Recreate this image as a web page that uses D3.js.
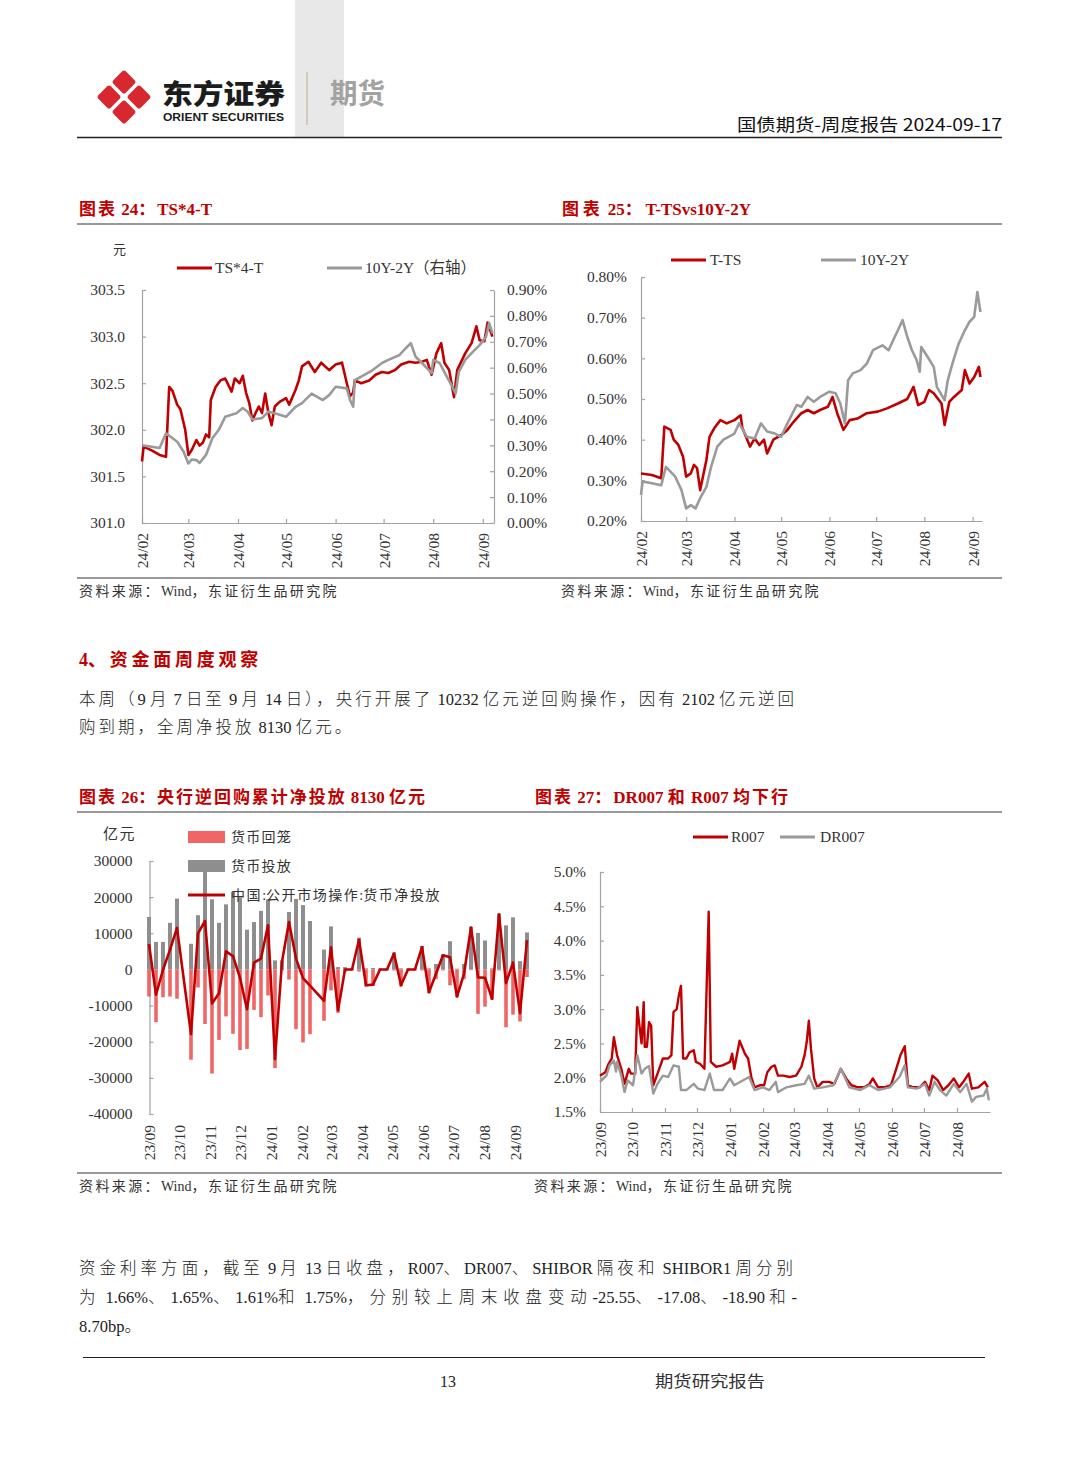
<!DOCTYPE html>
<html>
<head>
<meta charset="utf-8">
<script src="https://cdn.jsdelivr.net/npm/d3@7"></script>
<style>
  body { margin: 0; background: #fff; }
  svg { display: block; }
  text { white-space: pre; }
</style>
</head>
<body>
<svg id="page" width="1080" height="1466"></svg>
<script>
// ---------- chart 24: TS*4-T (left axis) and 10Y-2Y (right axis, %) ----------
var ts4T = [
  ["2024-02-01",301.66],["2024-02-02",301.82],["2024-02-07",301.78],["2024-02-12",301.73],["2024-02-16",301.71],
  ["2024-02-18",302.46],["2024-02-20",302.42],["2024-02-23",302.27],["2024-02-25",302.22],["2024-02-28",302.00],
  ["2024-03-01",301.73],["2024-03-03",301.78],["2024-03-06",301.89],["2024-03-08",301.83],["2024-03-10",301.86],
  ["2024-03-12",301.95],["2024-03-14",301.92],["2024-03-15",302.32],["2024-03-18",302.46],["2024-03-21",302.53],
  ["2024-03-24",302.55],["2024-03-28",302.41],["2024-03-30",302.55],["2024-04-02",302.50],["2024-04-04",302.58],
  ["2024-04-06",302.40],["2024-04-08",302.29],["2024-04-10",302.10],["2024-04-12",302.18],["2024-04-14",302.25],
  ["2024-04-16",302.18],["2024-04-18",302.39],["2024-04-20",302.18],["2024-04-22",302.05],["2024-04-24",302.25],
  ["2024-04-27",302.30],["2024-05-01",302.34],["2024-05-03",302.27],["2024-05-07",302.43],["2024-05-09",302.53],
  ["2024-05-11",302.68],["2024-05-15",302.73],["2024-05-19",302.62],["2024-05-23",302.72],["2024-05-28",302.64],
  ["2024-06-01",302.70],["2024-06-05",302.72],["2024-06-08",302.50],["2024-06-10",302.36],["2024-06-12",302.40],
  ["2024-06-13",302.53],["2024-06-17",302.50],["2024-06-22",302.53],["2024-06-26",302.59],["2024-06-30",302.62],
  ["2024-07-04",302.61],["2024-07-08",302.64],["2024-07-12",302.70],["2024-07-17",302.73],["2024-07-21",302.72],
  ["2024-07-25",302.73],["2024-07-28",302.75],["2024-07-31",302.59],["2024-08-03",302.82],["2024-08-06",302.93],
  ["2024-08-08",302.72],["2024-08-11",302.64],["2024-08-14",302.35],["2024-08-16",302.64],["2024-08-21",302.82],
  ["2024-08-25",302.93],["2024-08-28",303.11],["2024-08-30",302.96],["2024-09-02",302.95],["2024-09-04",303.15],
  ["2024-09-07",303.00]
];
var spread24 = [
  ["2024-02-01",0.300],["2024-02-12",0.290],["2024-02-16",0.347],["2024-02-23",0.314],["2024-02-27",0.275],
  ["2024-03-01",0.230],["2024-03-03",0.245],["2024-03-06",0.243],["2024-03-08",0.232],["2024-03-12",0.263],
  ["2024-03-16",0.327],["2024-03-20",0.360],["2024-03-24",0.410],["2024-03-31",0.424],["2024-04-04",0.444],
  ["2024-04-07",0.430],["2024-04-10",0.400],["2024-04-16",0.405],["2024-04-20",0.430],["2024-04-24",0.424],
  ["2024-05-01",0.410],["2024-05-07",0.449],["2024-05-11",0.463],["2024-05-17",0.500],["2024-05-24",0.475],
  ["2024-05-28",0.494],["2024-06-01",0.526],["2024-06-08",0.520],["2024-06-10",0.475],["2024-06-12",0.449],
  ["2024-06-13",0.552],["2024-06-17",0.565],["2024-06-24",0.590],["2024-06-30",0.618],["2024-07-04",0.630],
  ["2024-07-11",0.649],["2024-07-15",0.676],["2024-07-18",0.695],["2024-07-21",0.642],["2024-07-25",0.618],
  ["2024-07-31",0.579],["2024-08-01",0.630],["2024-08-05",0.618],["2024-08-09",0.571],["2024-08-13",0.526],
  ["2024-08-15",0.500],["2024-08-17",0.584],["2024-08-21",0.630],["2024-08-25",0.656],["2024-08-30",0.687],
  ["2024-09-03",0.720],["2024-09-05",0.772],["2024-09-07",0.733]
];
var ticks24L = [301.0, 301.5, 302.0, 302.5, 303.0, 303.5];
var ticks24R = [0, 0.1, 0.2, 0.3, 0.4, 0.5, 0.6, 0.7, 0.8, 0.9];
var months24 = ["2024-02-01","2024-03-01","2024-04-01","2024-05-01","2024-06-01","2024-07-01","2024-08-01","2024-09-01"];

// ---------- chart 25: T-TS vs 10Y-2Y (%) ----------
var tMinusTs = [
  ["2024-02-01",0.317],["2024-02-08",0.313],["2024-02-14",0.305],["2024-02-16",0.432],["2024-02-20",0.424],
  ["2024-02-22",0.400],["2024-02-25",0.387],["2024-02-28",0.358],["2024-03-01",0.309],["2024-03-04",0.317],
  ["2024-03-06",0.338],["2024-03-08",0.330],["2024-03-10",0.276],["2024-03-14",0.350],["2024-03-16",0.407],
  ["2024-03-19",0.428],["2024-03-23",0.448],["2024-03-27",0.440],["2024-04-01",0.448],["2024-04-05",0.460],
  ["2024-04-06",0.430],["2024-04-11",0.383],["2024-04-14",0.403],["2024-04-17",0.387],["2024-04-20",0.400],
  ["2024-04-22",0.366],["2024-04-26",0.400],["2024-05-01",0.411],["2024-05-05",0.424],["2024-05-09",0.444],
  ["2024-05-14",0.465],["2024-05-18",0.473],["2024-05-22",0.465],["2024-05-26",0.473],["2024-05-31",0.481],
  ["2024-06-03",0.505],["2024-06-06",0.465],["2024-06-10",0.424],["2024-06-14",0.448],["2024-06-19",0.452],
  ["2024-06-25",0.465],["2024-07-02",0.469],["2024-07-08",0.477],["2024-07-15",0.489],["2024-07-21",0.500],
  ["2024-07-25",0.530],["2024-07-28",0.485],["2024-08-01",0.493],["2024-08-04",0.522],["2024-08-07",0.514],
  ["2024-08-12",0.489],["2024-08-14",0.436],["2024-08-17",0.493],["2024-08-20",0.505],["2024-08-25",0.522],
  ["2024-08-27",0.571],["2024-08-30",0.538],["2024-09-02",0.554],["2024-09-05",0.579],["2024-09-06",0.554]
];
var spread25 = [
  ["2024-02-01",0.264],["2024-02-02",0.297],["2024-02-08",0.293],["2024-02-14",0.288],["2024-02-17",0.333],
  ["2024-02-23",0.309],["2024-02-27",0.276],["2024-03-01",0.231],["2024-03-04",0.239],["2024-03-07",0.231],
  ["2024-03-10",0.256],["2024-03-14",0.284],["2024-03-17",0.333],["2024-03-21",0.383],["2024-03-25",0.400],
  ["2024-04-01",0.415],["2024-04-04",0.440],["2024-04-09",0.407],["2024-04-14",0.403],["2024-04-18",0.440],
  ["2024-04-22",0.420],["2024-04-27",0.415],["2024-05-01",0.407],["2024-05-05",0.440],["2024-05-11",0.485],
  ["2024-05-14",0.481],["2024-05-18",0.505],["2024-05-22",0.493],["2024-05-26",0.505],["2024-06-01",0.518],
  ["2024-06-05",0.514],["2024-06-08",0.489],["2024-06-11",0.440],["2024-06-13",0.546],["2024-06-16",0.563],
  ["2024-06-21",0.571],["2024-06-25",0.587],["2024-06-29",0.620],["2024-07-05",0.632],["2024-07-09",0.620],
  ["2024-07-12",0.645],["2024-07-15",0.669],["2024-07-18",0.694],["2024-07-21",0.653],["2024-07-24",0.620],
  ["2024-07-27",0.596],["2024-07-29",0.567],["2024-07-30",0.628],["2024-08-03",0.604],["2024-08-07",0.579],
  ["2024-08-09",0.530],["2024-08-14",0.497],["2024-08-16",0.546],["2024-08-19",0.587],["2024-08-23",0.636],
  ["2024-08-27",0.669],["2024-08-30",0.690],["2024-09-02",0.702],["2024-09-04",0.763],["2024-09-06",0.714]
];
var ticks25 = [0.2, 0.3, 0.4, 0.5, 0.6, 0.7, 0.8];
var months25 = months24;

// ---------- chart 26: weekly open market operations (亿元) ----------
var weekDates = ["2023-09-01","2023-09-08","2023-09-15","2023-09-22","2023-09-29","2023-10-13","2023-10-20",
  "2023-10-27","2023-11-03","2023-11-10","2023-11-17","2023-11-24","2023-12-01","2023-12-08","2023-12-15",
  "2023-12-22","2023-12-29","2024-01-05","2024-01-12","2024-01-19","2024-01-26","2024-02-02","2024-02-09",
  "2024-02-23","2024-03-01","2024-03-08","2024-03-15","2024-03-22","2024-03-29","2024-04-05","2024-04-12",
  "2024-04-19","2024-04-26","2024-05-03","2024-05-10","2024-05-17","2024-05-24","2024-05-31","2024-06-07",
  "2024-06-14","2024-06-21","2024-06-28","2024-07-05","2024-07-12","2024-07-19","2024-07-26","2024-08-02",
  "2024-08-09","2024-08-16","2024-08-23","2024-08-30","2024-09-06","2024-09-13"];
var injection = [14500,7600,7600,12900,19600,7100,15000,28500,19400,12900,18000,21500,20000,11000,13100,16200,
  19400,2500,2500,15900,19500,17800,13400,5500,11900,650,650,300,8800,300,400,300,300,4700,300,300,300,6500,300,
  1500,4200,7800,200,1500,11800,10100,8000,300,15500,12200,14400,2300,10232];
var withdrawal = [-7500,-14600,-7700,-7500,-8100,-25000,-5000,-15100,-28800,-19500,-13000,-17800,-22300,-22000,
  -11200,-13200,-7200,-27300,-300,-2800,-16500,-20200,-17900,-14200,-5800,-12000,-650,-300,-600,-4700,-4600,-300,
  -300,-300,-4700,-300,-300,-300,-6600,-2700,-300,-4400,-7700,-2700,-200,-12300,-10300,-8400,-300,-16000,-12500,
  -14400,-2102];
var netInjection = [7000,-7000,-100,5400,11500,-17900,10000,13400,-9400,-6600,5000,3700,-2300,-11000,1900,3000,
  12200,-24800,2200,13100,3000,-2400,-4500,-8700,6100,-11350,0,0,8200,-4400,-4200,0,0,4400,-4400,0,0,6200,-6300,
  -1200,3900,3400,-7500,-1200,11600,-2200,-2300,-8100,15200,-3800,1900,-12100,8130];
var ticks26 = [-40000, -30000, -20000, -10000, 0, 10000, 20000, 30000];
var months26 = ["2023-09-01","2023-10-01","2023-11-01","2023-12-01","2024-01-01","2024-02-01","2024-03-01",
  "2024-04-01","2024-05-01","2024-06-01","2024-07-01","2024-08-01","2024-09-01"];

// ---------- chart 27: R007 and DR007 (%) ----------
var r007 = [
  ["2023-09-01",2.03],["2023-09-06",2.08],["2023-09-09",2.20],["2023-09-12",2.28],["2023-09-14",2.59],
  ["2023-09-17",2.33],["2023-09-21",2.13],["2023-09-24",1.91],["2023-09-28",2.13],["2023-09-30",2.06],
  ["2023-10-04",2.06],["2023-10-06",3.03],["2023-10-08",2.76],["2023-10-10",2.50],["2023-10-12",3.10],
  ["2023-10-13",2.45],["2023-10-15",2.45],["2023-10-17",2.81],["2023-10-19",2.76],["2023-10-21",1.89],
  ["2023-10-25",2.06],["2023-10-30",2.28],["2023-11-04",2.28],["2023-11-07",2.33],["2023-11-09",2.96],
  ["2023-11-12",3.00],["2023-11-14",3.20],["2023-11-16",3.34],["2023-11-18",2.28],["2023-11-21",2.28],
  ["2023-11-24",2.37],["2023-11-28",2.40],["2023-11-30",2.23],["2023-12-04",2.20],["2023-12-08",2.13],
  ["2023-12-12",4.42],["2023-12-14",2.23],["2023-12-19",2.16],["2023-12-25",2.18],["2024-01-01",2.23],
  ["2024-01-03",2.35],["2024-01-05",2.13],["2024-01-10",2.54],["2024-01-15",2.35],["2024-01-18",2.28],
  ["2024-01-21",2.01],["2024-01-24",1.86],["2024-01-29",1.89],["2024-02-02",1.89],["2024-02-05",2.08],
  ["2024-02-09",2.16],["2024-02-12",2.18],["2024-02-15",2.03],["2024-02-20",2.03],["2024-02-26",2.01],
  ["2024-03-03",2.03],["2024-03-08",2.16],["2024-03-11",2.33],["2024-03-13",2.52],["2024-03-15",2.83],
  ["2024-03-17",2.42],["2024-03-20",1.99],["2024-03-23",1.86],["2024-03-28",1.94],["2024-04-03",1.94],
  ["2024-04-08",1.91],["2024-04-14",2.13],["2024-04-19",1.99],["2024-04-24",1.89],["2024-04-30",1.86],
  ["2024-05-06",1.86],["2024-05-11",1.91],["2024-05-14",1.99],["2024-05-19",1.86],["2024-05-25",1.86],
  ["2024-05-31",1.89],["2024-06-05",2.13],["2024-06-09",2.33],["2024-06-13",2.46],["2024-06-16",1.89],
  ["2024-06-21",1.86],["2024-06-27",1.86],["2024-07-02",1.94],["2024-07-06",1.82],["2024-07-09",2.03],
  ["2024-07-14",1.96],["2024-07-19",1.82],["2024-07-24",1.89],["2024-07-29",1.99],["2024-08-03",1.86],
  ["2024-08-07",1.94],["2024-08-12",2.06],["2024-08-15",1.84],["2024-08-21",1.86],["2024-08-27",1.94],
  ["2024-08-30",1.86]
];
var dr007 = [
  ["2023-09-01",1.94],["2023-09-07",2.03],["2023-09-10",2.18],["2023-09-14",2.25],["2023-09-16",2.09],
  ["2023-09-17",2.23],["2023-09-21",2.03],["2023-09-24",1.79],["2023-09-27",1.96],["2023-10-02",1.89],
  ["2023-10-06",2.33],["2023-10-10",2.06],["2023-10-13",2.13],["2023-10-17",2.17],["2023-10-21",1.77],
  ["2023-10-25",1.91],["2023-10-30",2.03],["2023-11-04",2.01],["2023-11-09",2.18],["2023-11-14",2.16],
  ["2023-11-16",1.82],["2023-11-21",1.82],["2023-11-28",1.91],["2023-12-02",1.84],["2023-12-08",1.82],
  ["2023-12-13",2.06],["2023-12-17",1.82],["2023-12-25",1.82],["2024-01-01",1.99],["2024-01-05",1.89],
  ["2024-01-13",1.96],["2024-01-19",2.01],["2024-01-24",1.82],["2024-02-01",1.86],["2024-02-07",1.82],
  ["2024-02-13",1.94],["2024-02-15",1.79],["2024-02-23",1.86],["2024-03-03",1.89],["2024-03-11",1.91],
  ["2024-03-15",2.03],["2024-03-20",1.84],["2024-03-28",1.86],["2024-04-07",1.89],["2024-04-14",2.13],
  ["2024-04-22",1.86],["2024-05-02",1.82],["2024-05-11",1.89],["2024-05-19",1.82],["2024-05-30",1.86],
  ["2024-06-08",2.01],["2024-06-13",2.18],["2024-06-16",1.86],["2024-06-24",1.84],["2024-07-02",1.91],
  ["2024-07-06",1.74],["2024-07-11",1.94],["2024-07-16",1.82],["2024-07-22",1.74],["2024-07-29",1.91],
  ["2024-08-04",1.79],["2024-08-10",1.91],["2024-08-15",1.65],["2024-08-19",1.72],["2024-08-26",1.74],
  ["2024-08-29",1.84],["2024-08-31",1.67]
];
var ticks27 = [1.5, 2.0, 2.5, 3.0, 3.5, 4.0, 4.5, 5.0];
var months27 = months26.slice(0, 12);

// ---------- page text ----------
var para1 = ["本周（9 月 7 日至 9 月 14 日），央行开展了 10232 亿元逆回购操作，因有 2102 亿元逆回",
             "购到期，全周净投放 8130 亿元。"];
var para2 = ["资金利率方面，截至 9 月 13 日收盘，R007、DR007、SHIBOR 隔夜和 SHIBOR1 周分别",
             "为 1.66%、1.65%、1.61%和 1.75%，分别较上周末收盘变动-25.55、-17.08、-18.90 和-",
             "8.70bp。"];
var source = "资料来源：Wind，东证衍生品研究院";

// ---------- helpers ----------
var svg = d3.select("#page");
var parse = d3.timeParse("%Y-%m-%d");
var SERIF = "'Liberation Serif','Noto Sans CJK SC',serif";
var SANS = "'Noto Sans CJK SC','Noto Sans',sans-serif";
var RED = "#c00000", GREY = "#9a9a9a", AXIS = "#a3a3a3", INK = "#333", RULE = "#777";
var CJK = /[\u3000-\u303f\u4e00-\u9fff\uff00-\uffef]/;

function label(x, y, s, o) {
  o = o || {};
  var t = svg.append("text").attr("x", x).attr("y", y).text(s)
      .attr("font-family", o.font || SERIF).attr("font-size", o.size || 15)
      .attr("fill", o.fill || INK);
  if (o.weight) t.attr("font-weight", o.weight);
  if (o.anchor) t.attr("text-anchor", o.anchor);
  if (o.len) t.attr("textLength", o.len).attr("lengthAdjust", o.adjust || "spacingAndGlyphs");
  return t;
}

// spread the CJK characters so the line fills the given width (like the justified PDF text)
function justify(x, y, s, width, o, spacing) {
  o = o || {};
  var t = svg.append("text").attr("x", x).attr("y", y)
      .attr("font-family", o.font || SERIF).attr("font-size", o.size || 15)
      .attr("fill", o.fill || INK);
  if (o.weight) t.attr("font-weight", o.weight);
  var parts = s.split(/([\u3000-\u303f\u4e00-\u9fff\uff00-\uffef]+)/).filter(function(p) { return p; });
  var spans = [], n = 0;
  parts.forEach(function(p) {
    var sp = t.append("tspan").text(p);
    if (CJK.test(p)) { spans.push(sp); n += p.length; }
  });
  var ls = spacing;
  if (ls === undefined) ls = Math.max(0, (width - t.node().getComputedTextLength()) / n);
  spans.forEach(function(sp) { sp.style("letter-spacing", ls + "px"); });
  return ls;
}

function rule(x1, x2, y, color, w) {
  svg.append("line").attr("x1", x1).attr("x2", x2).attr("y1", y).attr("y2", y)
    .attr("stroke", color).attr("stroke-width", w);
}

function styleAxis(g) {
  g.attr("font-family", SERIF).attr("font-size", 15.5);
  g.selectAll("path,line").attr("stroke", AXIS).attr("stroke-width", 1.2);
  g.selectAll("text").attr("fill", INK);
}

function yAxis(scale, x, side, ticks, fmt, pad) {
  var ax = (side === "left" ? d3.axisLeft(scale) : d3.axisRight(scale))
      .tickValues(ticks).tickFormat(fmt).tickSizeInner(-4).tickSizeOuter(0).tickPadding(pad);
  var g = svg.append("g").attr("transform", "translate(" + x + ",0)").call(ax);
  styleAxis(g);
}

function xAxis(scale, y, ticks, withLine, pad) {
  var ax = d3.axisBottom(scale).tickValues(ticks.map(parse)).tickFormat(d3.timeFormat("%y/%m"))
      .tickSizeInner(withLine ? -4 : 0).tickSizeOuter(0);
  var g = svg.append("g").attr("transform", "translate(0," + y + ")").call(ax);
  styleAxis(g);
  if (!withLine) g.selectAll("path,line").remove();
  g.selectAll("text").attr("transform", "rotate(-90)").attr("x", -pad).attr("y", 0)
    .attr("dy", "0.35em").attr("text-anchor", "end");
}

function drawLine(data, x, y, color, w) {
  svg.append("path").datum(data)
    .attr("fill", "none").attr("stroke", color).attr("stroke-width", w)
    .attr("stroke-linejoin", "round")
    .attr("d", d3.line().x(function(d) { return x(parse(d[0])); }).y(function(d) { return y(d[1]); }));
}

function legendLine(x, y, color) {
  svg.append("line").attr("x1", x).attr("x2", x + 35).attr("y1", y).attr("y2", y)
    .attr("stroke", color).attr("stroke-width", 3);
}

var pct2 = function(d) { return d.toFixed(2) + "%"; };
var BODY = { size: 16.5, weight: 300, fill: "#222" };

// ---------- header ----------
svg.append("rect").attr("x", 295).attr("y", 0).attr("width", 49).attr("height", 137).attr("fill", "#e8e8e8");
[[0, -15], [15, 0], [0, 15], [-15, 0]].forEach(function(o) {
  svg.append("rect").attr("x", -8.8).attr("y", -8.8).attr("width", 17.6).attr("height", 17.6).attr("rx", 2.5)
    .attr("transform", "translate(" + (124 + o[0]) + "," + (97 + o[1]) + ") rotate(45)")
    .attr("fill", "#d7282f");
});
label(162, 104, "东方证券", { font: SANS, size: 27, weight: 900, fill: "#1c1c1c", len: 123 });
label(163, 121, "ORIENT SECURITIES", { font: "'Liberation Sans',Roboto,sans-serif", size: 11.5, weight: 700, fill: "#1c1c1c", len: 121 });
svg.append("line").attr("x1", 307).attr("x2", 307).attr("y1", 72).attr("y2", 125).attr("stroke", "#cfc2a4").attr("stroke-width", 1.5);
label(330, 104, "期货", { font: SANS, size: 28, weight: 700, fill: "#a2a2a2", len: 55 });
label(1002, 130.5, "国债期货-周度报告 2024-09-17", { font: SANS, size: 17, fill: "#111", anchor: "end", len: 265 });
rule(77, 1002, 137.5, "#222", 1.5);

// ---------- chart 24 ----------
justify(79, 215, "图表 24：TS*4-T", 133, { size: 17, weight: 700, fill: RED });
rule(77, 1002, 224, RULE, 1.6);
label(113, 254, "元", { font: SANS, size: 13 });
legendLine(177, 268, RED);
label(215, 273, "TS*4-T", { size: 15.5 });
legendLine(327, 268, GREY);
justify(365, 273, "10Y-2Y（右轴）", 107, { size: 15.5 });

var x24 = d3.scaleTime().domain([parse("2024-02-01"), parse("2024-09-08")]).range([142, 494]);
var yL24 = d3.scaleLinear().domain([301, 303.5]).range([523, 290]);
var yR24 = d3.scaleLinear().domain([0, 0.9]).range([523, 290]);
yAxis(yL24, 142, "left", ticks24L, d3.format(".1f"), 17);
yAxis(yR24, 494, "right", ticks24R, pct2, 13);
xAxis(x24, 523, months24, true, 10);
drawLine(ts4T, x24, yL24, RED, 2.6);
drawLine(spread24, x24, yR24, GREY, 2.6);

// ---------- chart 25 ----------
justify(562, 215, "图表 25：T-TSvs10Y-2Y", 189, { size: 17, weight: 700, fill: RED });
legendLine(671, 260, RED);
label(710, 265, "T-TS", { size: 15.5 });
legendLine(821, 260, GREY);
label(860, 265, "10Y-2Y", { size: 15.5 });

var x25 = d3.scaleTime().domain([parse("2024-02-01"), parse("2024-09-07")]).range([641, 982]);
var y25 = d3.scaleLinear().domain([0.2, 0.8]).range([521, 277]);
yAxis(y25, 641, "left", ticks25, pct2, 14);
xAxis(x25, 521, months25, true, 10);
drawLine(tMinusTs, x25, y25, RED, 2.6);
drawLine(spread25, x25, y25, GREY, 2.6);

rule(77, 1002, 578, RULE, 1.6);
justify(79, 596, source, 260, { size: 14 });
justify(561, 596, source, 260, { size: 14 });

// ---------- section text ----------
justify(79, 665.5, "4、资金面周度观察", 183, { size: 18, weight: 700, fill: RED });
var ls1 = justify(79, 705, para1[0], 718, BODY);
justify(79, 733, para1[1], 0, BODY, ls1);

// ---------- chart 26 ----------
justify(79, 803, "图表 26：央行逆回购累计净投放 8130 亿元", 348, { size: 17, weight: 700, fill: RED });
rule(77, 1002, 812, RULE, 1.6);
justify(103, 838.5, "亿元", 33, { size: 15 });

var x26 = d3.scaleTime().domain([parse("2023-09-01"), parse("2024-09-01")]).range([149, 515]);
var y26 = d3.scaleLinear().domain([-40000, 30000]).range([1114, 861]);
yAxis(y26, 149.5, "left", ticks26, function(d) { return String(d); }, 17);
xAxis(x26, 1114, months26, false, 11);

var weeks = weekDates.map(function(d, i) {
  return { date: parse(d), inj: injection[i], wd: withdrawal[i], net: netInjection[i] };
});
svg.append("g").selectAll("rect").data(weeks).enter().append("rect")
  .attr("x", function(d) { return x26(d.date) - 2; })
  .attr("y", function(d) { return y26(d.inj); })
  .attr("width", 4)
  .attr("height", function(d) { return y26(0) - y26(d.inj); })
  .attr("fill", "#8e8e8e");
svg.append("g").selectAll("rect").data(weeks).enter().append("rect")
  .attr("x", function(d) { return x26(d.date) - 1.8; })
  .attr("y", y26(0))
  .attr("width", 3.6)
  .attr("height", function(d) { return y26(d.wd) - y26(0); })
  .attr("fill", "#f06666");
svg.append("path").datum(weeks)
  .attr("fill", "none").attr("stroke", RED).attr("stroke-width", 2.6).attr("stroke-linejoin", "round")
  .attr("d", d3.line().x(function(d) { return x26(d.date); }).y(function(d) { return y26(d.net); }));

svg.append("rect").attr("x", 188).attr("y", 831).attr("width", 37).attr("height", 12).attr("fill", "#f06666");
justify(231, 842, "货币回笼", 61, { size: 14 });
svg.append("rect").attr("x", 188).attr("y", 860).attr("width", 37).attr("height", 12).attr("fill", "#8e8e8e");
justify(231, 871, "货币投放", 61, { size: 14 });
svg.append("line").attr("x1", 188).attr("x2", 225).attr("y1", 895).attr("y2", 895).attr("stroke", RED).attr("stroke-width", 3);
justify(231, 900, "中国:公开市场操作:货币净投放", 210, { size: 14 });

// ---------- chart 27 ----------
justify(535, 803, "图表 27：DR007 和 R007 均下行", 255, { size: 17, weight: 700, fill: RED });
legendLine(693, 837, RED);
label(731, 842, "R007", { size: 15.5 });
legendLine(780, 837, GREY);
label(820, 842, "DR007", { size: 15.5 });

var x27 = d3.scaleTime().domain([parse("2023-09-01"), parse("2024-09-01")]).range([600, 990]);
var y27 = d3.scaleLinear().domain([1.5, 5.0]).range([1112, 872]);
yAxis(y27, 600, "left", ticks27, function(d) { return d.toFixed(1) + "%"; }, 14);
xAxis(x27, 1112, months27, true, 10);
drawLine(r007, x27, y27, RED, 2.4);
drawLine(dr007, x27, y27, GREY, 2.4);

rule(77, 1002, 1173, RULE, 1.6);
justify(79, 1191, source, 260, { size: 14 });
justify(534, 1191, source, 260, { size: 14 });

// ---------- closing paragraph ----------
var ls2 = justify(79, 1274, para2[0], 718, BODY);
justify(79, 1303, para2[1], 718, BODY);
justify(79, 1332, para2[2], 0, BODY, ls2);

// ---------- footer ----------
rule(83, 985, 1357.5, "#222", 1.2);
label(448, 1387, "13", { size: 16, anchor: "middle", fill: "#222" });
label(655, 1387, "期货研究报告", { font: SANS, size: 16, fill: "#333", len: 110 });
</script>
</body>
</html>
